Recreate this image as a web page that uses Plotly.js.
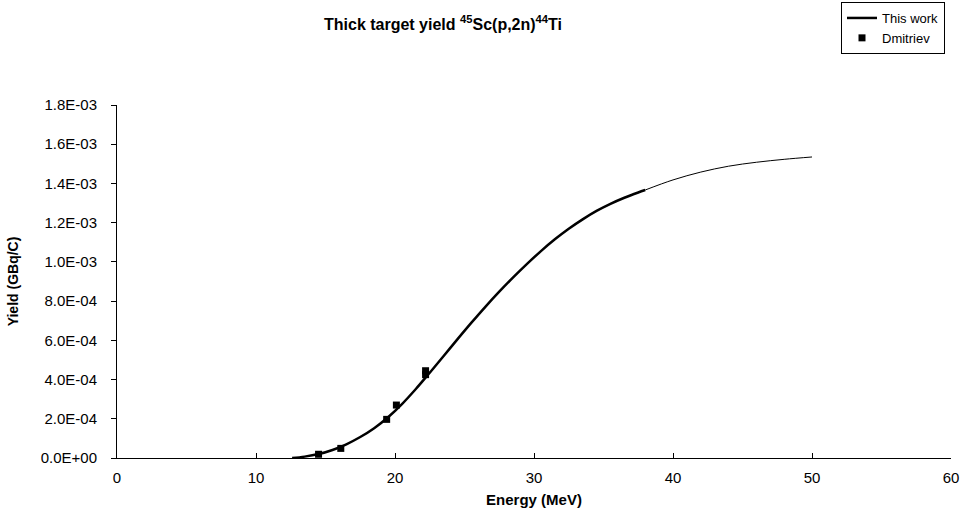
<!DOCTYPE html>
<html>
<head>
<meta charset="utf-8">
<script src="https://cdn.plot.ly/plotly-3.0.1.min.js"></script>
<style>html,body{margin:0;padding:0;background:#fff;}#chart{width:964px;height:510px;}</style>
</head>
<body>
<div id="chart"></div>
<script>
// "This work" calculated thick target yield (GBq/C) vs proton energy (MeV)
const workEnergy = [12.6, 13.5, 14.5, 15.5, 16.5, 17.5, 18.5, 19.5, 20.5, 21.5, 22.5, 23.5, 24.5, 25.5, 26.5, 27.5, 28.5, 29.5, 30.5, 31.5, 32.5, 33.5, 34.5, 35.5, 36.5, 37.5, 38];
const workYield  = [0, 7e-6, 2.0e-5, 4.1e-5, 7.0e-5, 1.07e-4, 1.52e-4, 2.08e-4, 2.75e-4, 3.52e-4, 4.35e-4, 5.2e-4, 6.06e-4, 6.9e-4, 7.71e-4, 8.48e-4, 9.21e-4, 9.9e-4, 1.055e-3, 1.115e-3, 1.169e-3, 1.217e-3, 1.26e-3, 1.296e-3, 1.327e-3, 1.354e-3, 1.3665e-3];
// thin extension of the calculation
const extEnergy = [38, 40, 42, 44, 46, 48, 50];
const extYield  = [1.3665e-3, 1.418e-3, 1.458e-3, 1.488e-3, 1.508e-3, 1.523e-3, 1.535e-3];
// Dmitriev experimental points
const dmEnergy = [14.5, 16.1, 19.4, 20.1, 22.2, 22.2];
const dmYield  = [1.9e-5, 4.9e-5, 1.97e-4, 2.7e-4, 4.45e-4, 4.25e-4];
// axis ticks
const yTickVals = [0, 2e-4, 4e-4, 6e-4, 8e-4, 1e-3, 1.2e-3, 1.4e-3, 1.6e-3, 1.8e-3];
const yTickLabels = ["0.0E+00", "2.0E-04", "4.0E-04", "6.0E-04", "8.0E-04", "1.0E-03", "1.2E-03", "1.4E-03", "1.6E-03", "1.8E-03"];
const xTickVals = [0, 10, 20, 30, 40, 50, 60];

const FONT = "Liberation Sans, Arial, sans-serif";

const traces = [
  {x: workEnergy, y: workYield, type: 'scatter', mode: 'lines', name: 'This work',
   line: {color: '#000', width: 2.5, shape: 'spline'}},
  {x: dmEnergy, y: dmYield, type: 'scatter', mode: 'markers', name: 'Dmitriev',
   marker: {symbol: 'square', size: 7, color: '#000'}},
  {x: extEnergy, y: extYield, type: 'scatter', mode: 'lines', showlegend: false,
   line: {color: '#000', width: 1, shape: 'spline'}}
];

const layout = {
  width: 964, height: 510,
  paper_bgcolor: '#fff', plot_bgcolor: '#fff',
  margin: {l: 117, r: 13, t: 105, b: 52, autoexpand: false},
  font: {family: FONT, color: '#000', size: 14},
  title: {text: '<b>Thick target yield <sup>45</sup>Sc(p,2n)<sup>44</sup>Ti</b>',
          font: {family: FONT, size: 16, color: '#000'},
          xref: 'container', yref: 'container', x: 443/964, xanchor: 'center', y: 1 - 24/510, yanchor: 'middle'},
  xaxis: {range: [0, 60], tickvals: xTickVals, ticktext: xTickVals.map(String),
          showgrid: false, zeroline: false, showline: true, linecolor: '#000', linewidth: 1,
          ticks: 'inside', ticklen: 5, tickcolor: '#000', tickfont: {size: 15}, ticklabelstandoff: 6,
          title: {text: '<b>Energy (MeV)</b>', font: {size: 15}, standoff: 9}},
  yaxis: {range: [0, 1.8e-3], tickvals: yTickVals, ticktext: yTickLabels,
          showgrid: false, zeroline: false, showline: true, linecolor: '#000', linewidth: 1,
          ticks: 'outside', ticklen: 5, tickcolor: '#000', tickfont: {size: 15}, ticklabelstandoff: 11,
          title: {text: '<b>Yield (GBq/C)</b>', font: {size: 14}, standoff: 18}},
  showlegend: true,
  legend: {xref: 'container', yref: 'container', x: 841/964, y: 1 - 2/510, xanchor: 'left', yanchor: 'top',
           bordercolor: '#000', borderwidth: 1, bgcolor: '#fff', font: {size: 13},
           tracegroupgap: 0, itemwidth: 30}
};

Plotly.newPlot('chart', traces, layout, {displayModeBar: false, staticPlot: true});
</script>
</body>
</html>
